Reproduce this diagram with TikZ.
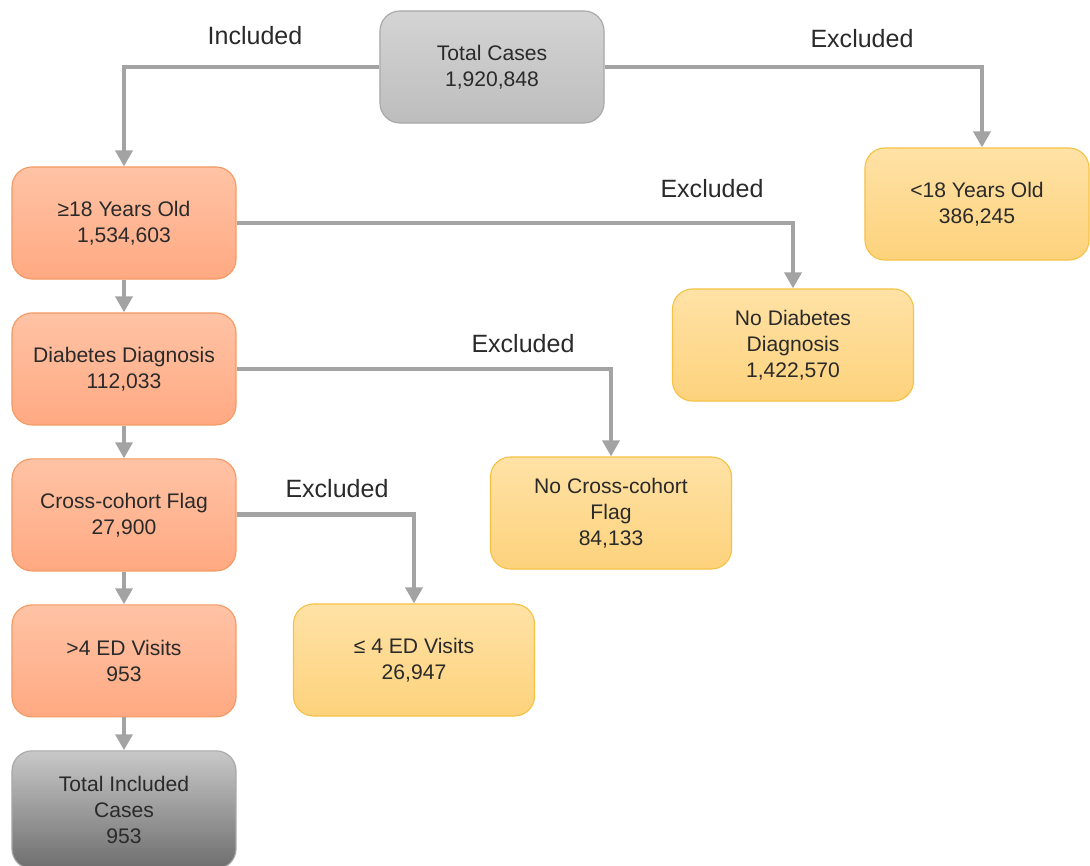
\documentclass[tikz,border=0pt]{standalone}
\usepackage{fontspec}
\setmainfont{Liberation Sans}
\usetikzlibrary{arrows.meta,positioning}

\definecolor{boxtext}{HTML}{2A2A2A}
\definecolor{linegray}{HTML}{A3A3A3}
\definecolor{grayline}{HTML}{A8A8A8}
\definecolor{graytop}{HTML}{D4D4D4}
\definecolor{graybot}{HTML}{BDBDBD}
\definecolor{orangeline}{HTML}{F39A63}
\definecolor{orangetop}{HTML}{FFC3A5}
\definecolor{orangebot}{HTML}{FFA982}
\definecolor{yellowline}{HTML}{F6C246}
\definecolor{yellowtop}{HTML}{FFE2A6}
\definecolor{yellowbot}{HTML}{FDD27C}
\definecolor{darktop}{HTML}{C8C8C8}
\definecolor{darkbot}{HTML}{6E6E6E}

\begin{document}
\begin{tikzpicture}[
  x=0.025cm, y=-0.025cm,
  font=\fontsize{15}{18.5}\selectfont, text=boxtext,
  box/.style={line width=0.8pt, rounded corners=0.5cm, align=center,
              minimum width=5.6cm, minimum height=2.8cm, inner sep=2pt},
  keep/.style={box, draw=orangeline, top color=orangetop, bottom color=orangebot},
  drop/.style={box, draw=yellowline, top color=yellowtop, bottom color=yellowbot,
               minimum width=6.025cm},
  start/.style={box, draw=grayline, top color=graytop, bottom color=graybot},
  finish/.style={box, draw=grayline, top color=darktop, bottom color=darkbot,
                 minimum height=2.95cm},
  lbl/.style={font=\fontsize{17.8}{20}\selectfont},
  arr/.style={-{Triangle[length=0.4cm, width=0.42cm]}, line width=3.5pt, draw=linegray}
]
\useasboundingbox (0,0) rectangle (1090,866);
% top
\node[start] (tot) at (492,67) {Total Cases\\1,920,848};
\node[drop, minimum width=5.6cm] (young) at (977,204) {<18 Years Old\\386,245};
% left column
\node[keep] (adult) at (124,223) {≥18 Years Old\\1,534,603};
\node[keep, below=0.82cm of adult] (diab) {Diabetes Diagnosis\\112,033};
\node[keep, below=0.82cm of diab] (cross) {Cross-cohort Flag\\27,900};
\node[keep, below=0.82cm of cross] (visits) {>4 ED Visits\\953};
\node[finish, below=0.82cm of visits] (final) {Total Included\\Cases\\953};
% exclusions
\node[drop] (nodiab) at (793,345) {No Diabetes\\Diagnosis\\1,422,570};
\node[drop] (nocross) at (611,513) {No Cross-cohort\\Flag\\84,133};
\node[drop] (fewvis) at (414,660) {≤ 4 ED Visits\\26,947};
% labels
\node[lbl] (linc) at (255,36) {Included};
\node[lbl] (lex1) at (862,39) {Excluded};
\node[lbl] (lex2) at (712,189) {Excluded};
\node[lbl] (lex3) at (523,344) {Excluded};
\node[lbl] (lex4) at (337,489) {Excluded};
% connectors
\draw[arr] (tot.west) -| (adult.north);
\draw[arr] (tot.east) -| ([xshift=0.125cm]young.north);
\foreach \a/\b in {adult/diab,diab/cross,cross/visits,visits/final}\draw[arr](\a)--(\b);
\draw[arr] (adult.east) -| (nodiab.north);
\draw[arr] (diab.east) -| (nocross.north);
\draw[arr] (cross.east) -| (fewvis.north);
\end{tikzpicture}
\end{document}
